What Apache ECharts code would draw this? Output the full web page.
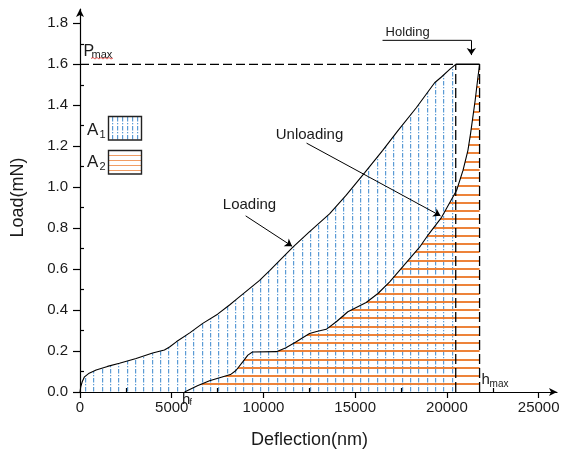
<!DOCTYPE html>
<html><head><meta charset="utf-8">
<script src="https://cdn.jsdelivr.net/npm/echarts@6/dist/echarts.min.js"></script>
<style>html,body{margin:0;padding:0;background:#fff}#c{width:565px;height:453px}</style>
</head><body><div id="c"></div>
<script>
// ---- data (nm, mN) ----
const loadingX = [0, 40, 120, 245, 500, 880, 1500, 2150, 3060, 3960, 4600, 4880, 5250, 6000, 6690, 7500, 8150, 8520, 9790, 10350, 11590, 12500, 13600, 14500, 15510, 16500, 17320, 18330, 19330, 19700, 20150, 20480];
const loadingY = [0, 0.025, 0.05, 0.074, 0.092, 0.107, 0.125, 0.14, 0.164, 0.19, 0.205, 0.22, 0.245, 0.29, 0.335, 0.38, 0.425, 0.452, 0.545, 0.594, 0.706, 0.782, 0.87, 0.96, 1.07, 1.18, 1.275, 1.388, 1.51, 1.538, 1.575, 1.6];
const unloadingX = [5700, 6400, 7060, 7700, 8200, 8500, 8880, 9150, 9400, 10700, 11200, 11790, 12510, 12900, 13420, 13970, 14600, 15600, 16240, 16880, 17420, 18510, 19000, 19710, 20530, 20880, 21145, 21290, 21540, 21690, 21780];
const unloadingY = [0, 0.03, 0.055, 0.072, 0.085, 0.105, 0.148, 0.18, 0.195, 0.197, 0.215, 0.245, 0.286, 0.295, 0.306, 0.343, 0.392, 0.437, 0.481, 0.538, 0.594, 0.707, 0.77, 0.853, 0.985, 1.083, 1.18, 1.263, 1.424, 1.537, 1.6];
const Pmax = 1.6, hHold = 20480, hMax = 21780, hf = 5700;
const xMajorTicks = [0, 5000, 10000, 15000, 20000, 25000];
const xMinorTicks = [2500, 7500, 12500, 17500, 22500];
const yMajorTicks = [0, 0.2, 0.4, 0.6, 0.8, 1.0, 1.2, 1.4, 1.6, 1.8];
const yMinorTicks = [0.1, 0.3, 0.5, 0.7, 0.9, 1.1, 1.3, 1.5, 1.7];
const loadingArrow = [[9030, 0.86], [11560, 0.712]];
const unloadingArrow = [[12350, 1.215], [19650, 0.86]];
const holdingLine = [[16490, 1.717], [21330, 1.717]];
const holdingArrow = [[21330, 1.717], [21330, 1.645]];
const loadingText = [9240, 0.912], unloadingText = [12510, 1.254], holdingText = [17860, 1.756];

const loading = loadingX.map((x, i) => [x, loadingY[i]]);
const unloading = unloadingX.map((x, i) => [x, unloadingY[i]]);

// ---- fill patterns ----
function vPattern(w, xs) {
  const c = document.createElement('canvas'); c.width = w; c.height = 9;
  const g = c.getContext('2d'); g.fillStyle = '#5b9bd5';
  xs.forEach(x => { g.fillRect(x, 0, 1.2, 4.5); g.fillRect(x, 6, 1.2, 1.3); });
  return { image: c, repeat: 'repeat' };
}
function hPattern(h, ys, lw) {
  const c = document.createElement('canvas'); c.width = 4; c.height = h;
  const g = c.getContext('2d'); g.fillStyle = '#ed7d31';
  ys.forEach(y => g.fillRect(0, y - lw / 2, 4, lw));
  return { image: c, repeat: 'repeat' };
}
const blueFill = vPattern(25, [2, 10, 18]);
const orangeFill = hPattern(33, [5, 13, 21, 30], 1.9);
const blueBox = vPattern(5, [2]);
const orangeBox = hPattern(5, [0], 1.5);

const font = 'Liberation Sans, Arial, sans-serif';
const txt = '#1a1a1a';
const chart = echarts.init(document.getElementById('c'));

const xBase = { type: 'value', min: 0, max: 26000, gridIndex: 0, z: 5, splitLine: { show: false } };
const yBase = { type: 'value', min: 0, max: 1.87, gridIndex: 0, z: 5, splitLine: { show: false } };

function flat(s) { return { type: 'line', data: s, symbol: 'none', silent: true }; }

chart.setOption({
  animation: false,
  grid: { left: 80, right: 8, top: 9, bottom: 61 },
  xAxis: [
    Object.assign({}, xBase, {
      axisLine: { lineStyle: { color: '#000', width: 1.2 }, symbol: ['none', 'arrow'], symbolSize: [6, 8] },
      axisTick: { length: 6, customValues: xMajorTicks, lineStyle: { color: '#000', width: 1.2 } },
      axisLabel: { customValues: xMajorTicks, fontSize: 15, fontFamily: font, color: txt, margin: 8, formatter: v => String(v) }
    }),
    Object.assign({}, xBase, {
      axisLine: { show: false },
      axisTick: { length: 4, customValues: xMinorTicks, lineStyle: { color: '#000', width: 1.2 } },
      axisLabel: { show: false }
    })
  ],
  yAxis: [
    Object.assign({}, yBase, {
      axisLine: { show: true, lineStyle: { color: '#000', width: 1.2 }, symbol: ['none', 'arrow'], symbolSize: [6, 8] },
      axisTick: { show: true, length: 7, customValues: yMajorTicks, lineStyle: { color: '#000', width: 1.2 } },
      axisLabel: { customValues: yMajorTicks, fontSize: 15, fontFamily: font, color: txt, margin: 12, formatter: v => v.toFixed(1) }
    }),
    Object.assign({}, yBase, {
      axisLine: { show: false },
      axisTick: { show: true, length: 4, customValues: yMinorTicks, lineStyle: { color: '#000', width: 1.2 } },
      axisLabel: { show: false }
    })
  ],
  series: [
    Object.assign(flat(loading), { lineStyle: { color: '#000', width: 1.1 }, areaStyle: { color: blueFill, opacity: 1 }, z: 2 }),
    Object.assign(flat(unloading), { lineStyle: { color: '#000', width: 1.1 }, areaStyle: { color: orangeFill, opacity: 1 }, z: 3 }),
    Object.assign(flat([[0, Pmax], [hHold, Pmax]]), { lineStyle: { color: '#000', width: 1.3, type: [9, 4] }, z: 4 }),
    Object.assign(flat([[hHold, 0], [hHold, Pmax]]), { lineStyle: { color: '#000', width: 1.3, type: [10, 4] }, z: 4 }),
    Object.assign(flat([[hMax, 0], [hMax, Pmax]]), { lineStyle: { color: '#000', width: 1.3, type: [10, 4] }, z: 4 }),
    Object.assign(flat([[hHold, Pmax], [hMax, Pmax]]), { lineStyle: { color: '#000', width: 1.6 }, z: 4 }),
    Object.assign(flat(holdingLine), { lineStyle: { color: '#000', width: 1 }, z: 6 }),
    {
      type: 'lines', coordinateSystem: 'cartesian2d', silent: true, z: 6,
      symbol: ['none', 'arrow'], symbolSize: 7,
      lineStyle: { color: '#000', width: 1, opacity: 1 },
      data: [{ coords: loadingArrow }, { coords: unloadingArrow }, { coords: holdingArrow }]
    }
  ]
});

const px = p => chart.convertToPixel({ xAxisIndex: 0, yAxisIndex: 0 }, p);
function t(text, x, y, size, opts) {
  return Object.assign({ type: 'text', z: 10, silent: true, x: x, y: y,
    style: Object.assign({ text: text, fill: txt, font: size + 'px ' + font, align: 'left', verticalAlign: 'middle' }, (opts || {}).style) }, opts && opts.el);
}
const lp = px(loadingText), up = px(unloadingText), hp = px(holdingText);
const pm = px([0, Pmax]), hfp = px([hf, 0]), hmp = px([hMax, 0]);
chart.setOption({
  graphic: [
    t('Load(mN)', 18, 197.5, 18, { style: { align: 'center' }, el: { rotation: Math.PI / 2 } }),
    t('Deflection(nm)', 309.5, 440, 18, { style: { align: 'center' } }),
    t('Loading', lp[0], lp[1], 15, { style: { align: 'center' } }),
    t('Unloading', up[0], up[1], 15, { style: { align: 'center' } }),
    t('Holding', hp[0], hp[1], 13, { style: { align: 'center' } }),
    t('P', pm[0] + 3.5, pm[1] - 12.5, 16),
    t('max', pm[0] + 11.5, pm[1] - 9.5, 11),
    { type: 'polyline', z: 10, silent: true, shape: { points: [[91, 58.5], [93, 57.5], [95, 59], [97, 57.5], [99, 59], [101, 57.5], [103, 59], [105, 57.5], [107, 59], [109, 57.5], [111, 59], [113, 58]] }, style: { stroke: '#e0302c', lineWidth: 0.8, fill: null } },
    t('A', 87, 130.5, 17),
    t('1', 99.5, 134.5, 11),
    t('A', 87, 162.5, 17),
    t('2', 99.5, 166.5, 11),
    { type: 'rect', z: 10, silent: true, shape: { x: 108.5, y: 116.5, width: 33, height: 23.5 }, style: { fill: blueBox, stroke: '#222', lineWidth: 1.4 } },
    { type: 'rect', z: 10, silent: true, shape: { x: 108.5, y: 150.5, width: 33, height: 23.5 }, style: { fill: orangeBox, stroke: '#222', lineWidth: 1.4 } },
    t('h', hfp[0] - 2.5, hfp[1] + 8, 15),
    t('f', hfp[0] + 5, hfp[1] + 11, 9),
    t('h', hmp[0] + 2, hmp[1] - 12.5, 15),
    t('max', hmp[0] + 10, hmp[1] - 8, 10)
  ]
});
</script></body></html>
